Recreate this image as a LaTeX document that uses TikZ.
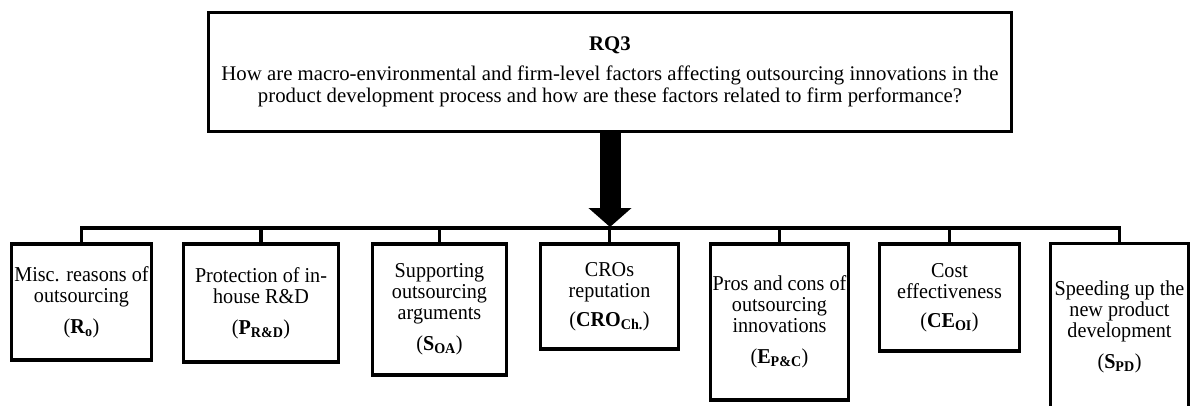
\documentclass[tikz,border=0pt]{standalone}
\usepackage{fontspec}
\setmainfont{Liberation Serif}
\newfontfamily\boxfont[FakeStretch=0.95]{Liberation Serif}
\usetikzlibrary{arrows.meta}
% bold factor label with bold subscript, plain parentheses
\newcommand\factorlbl[2]{(\textbf{#1}\textsubscript{\textbf{#2}})}
\begin{document}
\begin{tikzpicture}[x=1pt,y=-1pt,
  box/.style={draw, line width=3.5pt, inner sep=0pt, align=center,
    font=\boxfont\fontsize{21.2}{21}\selectfont},
  conn/.style={line width=3.5pt, line join=miter},
  bigarrow/.style={line width=21pt, -{Triangle[width=42pt,length=19pt]}},
]
\useasboundingbox (0,0) rectangle (1192,405);
\clip (0,0) rectangle (1192,405);

% research question
\node[box, minimum width=803, minimum height=119,
  font=\rmfamily\fontsize{20.8}{22}\selectfont] (rq) at (610,72)
  {\textbf{RQ3}\\[8pt]
   How are macro-environmental and firm-level factors affecting outsourcing innovations in the\\
   product development process and how are these factors related to firm performance?};

% factor boxes
\node[box, minimum width=140, minimum height=116] (b1) at (81.5,302)
  {Misc. reasons of\\ outsourcing\\[10pt] \factorlbl{R}{o}};
\node[box, minimum width=155, minimum height=118] (b2) at (261,303)
  {Protection of in-\\ house R\&D\\[10pt] \factorlbl{P}{R\&D}};
\node[box, minimum width=134, minimum height=131] (b3) at (439.5,309.5)
  {Supporting\\ outsourcing\\ arguments\\[10pt] \factorlbl{S}{OA}};
\node[box, minimum width=138, minimum height=105] (b4) at (609.5,296.5)
  {CROs\\ reputation\\[8pt] \factorlbl{CRO}{Ch.}};
\node[box, minimum width=138, minimum height=156] (b5) at (779.5,322)
  {Pros and cons of\\ outsourcing\\ innovations\\[10pt] \factorlbl{E}{P\&C}};
\node[box, minimum width=140, minimum height=107] (b6) at (949.5,297.5)
  {Cost\\ effectiveness\\[8pt] \factorlbl{CE}{OI}};
\node[box, minimum width=138, minimum height=166] (b7) at (1119.5,326.5)
  {Speeding up the\\ new product\\ development\\[10pt] \factorlbl{S}{PD}};

% distribution bar
\coordinate (bar) at (610,228);
\draw[bigarrow] (rq.south) -- ([yshift=1pt]bar);
\draw[conn] (b1.north) |- (bar) -| (b7.north);
\foreach \n in {b2,b3,b4,b5,b6}
  \draw[conn] (\n.north) -- (\n.north |- bar);
\end{tikzpicture}
\end{document}
